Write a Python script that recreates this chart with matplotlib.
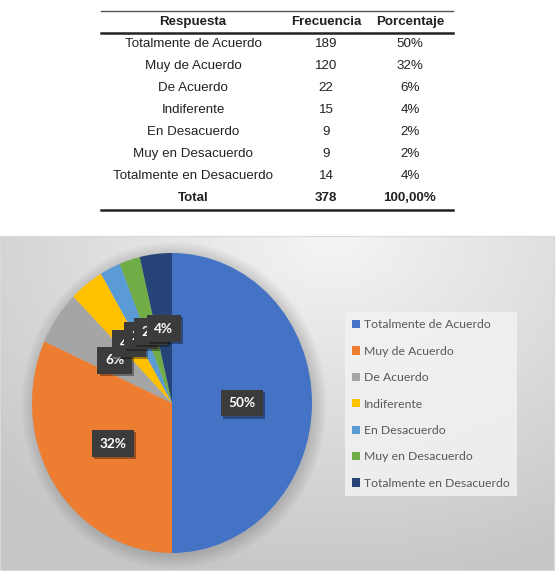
import numpy as np
import matplotlib
matplotlib.use("Agg")
import matplotlib.pyplot as plt
import matplotlib.patheffects as pe
from matplotlib.lines import Line2D
from matplotlib.patches import Ellipse

# ---- data ----
respuestas = ["Totalmente de Acuerdo", "Muy de Acuerdo", "De Acuerdo", "Indiferente",
              "En Desacuerdo", "Muy en Desacuerdo", "Totalmente en Desacuerdo"]
frecuencia = [189, 120, 22, 15, 9, 9, 14]
porcentaje = ["50%", "32%", "6%", "4%", "2%", "2%", "4%"]
total_frec = 378
total_pct = "100,00%"
colores = ["#4472C4", "#ED7D31", "#A5A5A5", "#FFC000", "#5B9BD5", "#70AD47", "#264478"]

W, H = 557, 574
fig = plt.figure(figsize=(W / 100, H / 100), dpi=100)


def fx(px):
    return px / W


def fy(py):
    return 1 - py / H


# ===== table at the top =====
tfont = dict(family="Liberation Sans", fontsize=9.6, color="#222222")
col_x = [193, 326, 410]
left, right = 101, 453
fig.add_artist(Line2D([fx(left), fx(right)], [fy(11), fy(11)], color="#555555", lw=1.0))
fig.add_artist(Line2D([fx(left), fx(right)], [fy(33), fy(33)], color="#222222", lw=1.8))
fig.add_artist(Line2D([fx(left), fx(right)], [fy(210), fy(210)], color="#222222", lw=1.8))

header = ["Respuesta", "Frecuencia", "Porcentaje"]
for x, h in zip(col_x, header):
    fig.text(fx(x), fy(22), h, ha="center", va="center", fontweight="bold", **tfont)

row_y = 44
for r, f, p in zip(respuestas, frecuencia, porcentaje):
    fig.text(fx(col_x[0]), fy(row_y), r, ha="center", va="center", **tfont)
    fig.text(fx(col_x[1]), fy(row_y), str(f), ha="center", va="center", **tfont)
    fig.text(fx(col_x[2]), fy(row_y), p, ha="center", va="center", **tfont)
    row_y += 22
fig.text(fx(col_x[0]), fy(row_y), "Total", ha="center", va="center", fontweight="bold", **tfont)
fig.text(fx(col_x[1]), fy(row_y), str(total_frec), ha="center", va="center", fontweight="bold", **tfont)
fig.text(fx(col_x[2]), fy(row_y), total_pct, ha="center", va="center", fontweight="bold", **tfont)

# ===== chart area with gray gradient =====
cx0, cx1, cy0, cy1 = 0, 554, 236, 570
bg = fig.add_axes([fx(cx0), fy(cy1), fx(cx1 - cx0), (cy1 - cy0) / H])
gx, gy = np.meshgrid(np.linspace(0, 1, 300), np.linspace(0, 1, 200))
d = np.sqrt(((gx - 0.6) / 0.9) ** 2 + ((gy - 0.0) / 1.1) ** 2)
shade = np.clip(0.96 - 0.19 * d, 0.78, 0.96)
bg.imshow(np.dstack([shade] * 3), aspect="auto", extent=(0, 1, 1, 0))
bg.set_xticks([])
bg.set_yticks([])
for s in bg.spines.values():
    s.set_color("#d9d9d9")
    s.set_linewidth(0.8)

# ===== pie =====
pcx, pcy, rx, ry = 172, 403, 140, 150
ax = fig.add_axes([fx(pcx - rx), fy(pcy + ry), fx(2 * rx), 2 * ry / H])
ax.patch.set_visible(False)

# soft shadow behind the pie
for i in range(8):
    ax.add_patch(Ellipse((0.015, -0.015), 2 + 0.025 * i, 2 + 0.025 * i,
                         facecolor="black", alpha=0.02, lw=0, zorder=0, clip_on=False))

wedges, texts, autotexts = ax.pie(
    frecuencia, colors=colores, startangle=90, counterclock=False,
    autopct="%.0f%%", pctdistance=0.5, radius=1,
    wedgeprops=dict(linewidth=0),
    textprops=dict(color="white", fontsize=9.8, fontweight="bold", family="Lato"))
for t in autotexts:
    t.set_bbox(dict(boxstyle="square,pad=0.55", facecolor="#3b3b3b", edgecolor="none"))
    t.get_bbox_patch().set_path_effects(
        [pe.SimplePatchShadow(offset=(1.5, -1.5), shadow_rgbFace="black", alpha=0.35), pe.Normal()])
    t.set_zorder(5)
ax.set_aspect("auto")
ax.set_xlim(-1, 1)
ax.set_ylim(-1, 1)

# ===== legend =====
leg = fig.legend(wedges, respuestas, loc="upper left",
                 bbox_to_anchor=(fx(345), fy(312)), frameon=True, fancybox=False,
                 handlelength=0.65, handleheight=0.65, handletextpad=0.3,
                 labelspacing=1.26, borderpad=0.6, borderaxespad=0,
                 prop=dict(family="Lato", size=8.8))
leg.get_frame().set_facecolor("#f2f2f2")
leg.get_frame().set_alpha(0.85)
leg.get_frame().set_edgecolor("none")
for t in leg.get_texts():
    t.set_color("#595959")

fig.savefig("out.png", dpi=100, facecolor="white")
